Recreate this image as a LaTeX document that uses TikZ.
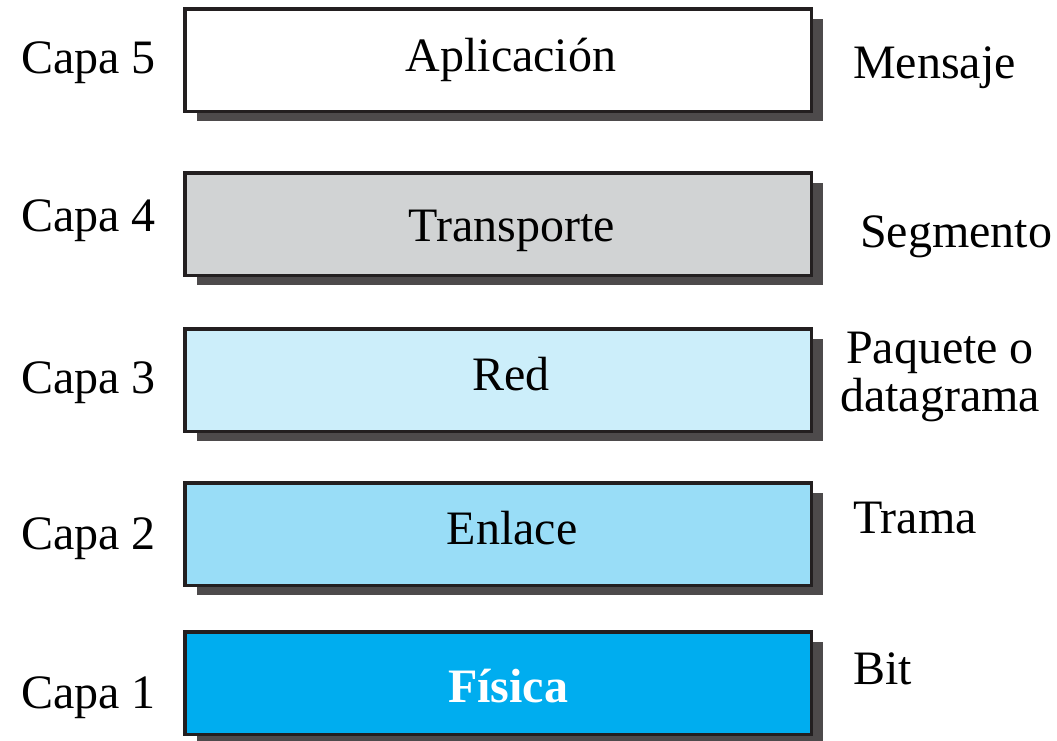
\documentclass[tikz,border=0pt]{standalone}
\usepackage{fontspec}
\setmainfont{Liberation Serif}
\usetikzlibrary{shadows}
\definecolor{edgec}{HTML}{231F20}
\definecolor{shadec}{HTML}{4D4A4B}
\definecolor{cgray}{HTML}{D1D3D4}
\definecolor{cpale}{HTML}{CCEEFA}
\definecolor{clight}{HTML}{99DDF7}
\definecolor{cdeep}{HTML}{00ADEF}
\begin{document}
\begin{tikzpicture}[x=1pt,y=-1pt,
  layerbox/.style={draw=edgec, line width=3.5pt, minimum width=626.5pt, minimum height=102.5pt, inner sep=0pt,
    general shadow={fill=shadec, shadow xshift=12pt, shadow yshift=-10pt}},
  txt/.style={font=\fontsize{48}{48}\selectfont, inner sep=0pt},
  boxtext/.style={txt, anchor=base},
  sidelabel/.style={txt, anchor=base west}]
\useasboundingbox (0,0) rectangle (1057,740);
% boxes
\node[layerbox, fill=white]  (b5) at (498,60)  {};
\node[layerbox, fill=cgray]  (b4) at (498,224) {};
\node[layerbox, fill=cpale]  (b3) at (498,380) {};
\node[layerbox, fill=clight] (b2) at (498,534) {};
\node[layerbox, fill=cdeep]  (b1) at (498,683) {};
% box texts
\node[boxtext] (t5) at (511,71)  {Aplicación};
\node[boxtext] (t4) at (512,241) {Transporte};
\node[boxtext] (t3) at (511,390) {Red};
\node[boxtext] (t2) at (512,544) {Enlace};
\node[boxtext, text=white, font=\fontsize{48}{48}\selectfont\bfseries] (t1) at (508,702) {Física};
% left labels
\node[sidelabel] (c5) at (21,73)  {Capa 5};
\node[sidelabel] (c4) at (21,231) {Capa 4};
\node[sidelabel] (c3) at (21,393) {Capa 3};
\node[sidelabel] (c2) at (21,549) {Capa 2};
\node[sidelabel] (c1) at (21,708) {Capa 1};
% right labels
\node[sidelabel] (r5) at (853,78)  {Mensaje};
\node[sidelabel] (r4) at (860,247) {Segmento};
\node[txt, anchor=base, align=center] (r3) at (940,411) {Paquete o\\datagrama};
\node[sidelabel] (r2) at (853,533) {Trama};
\node[sidelabel] (r1) at (853,684) {Bit};
\end{tikzpicture}
\end{document}
